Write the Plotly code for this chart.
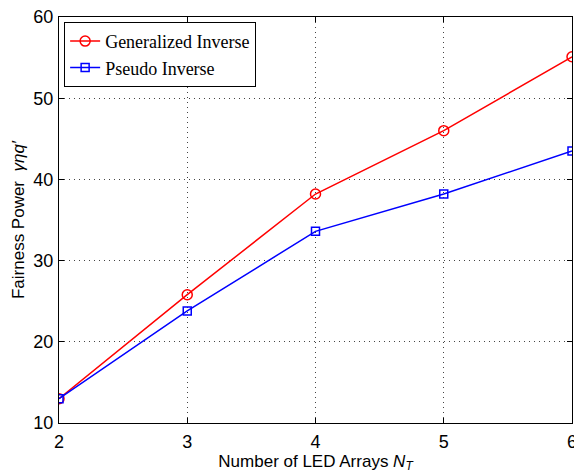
import plotly.graph_objects as go

x_vals = [2, 3, 4, 5, 6]
generalized = [13.0, 25.8, 38.2, 46.0, 55.1]
pseudo = [13.0, 23.8, 33.6, 38.2, 43.5]
y_ticks = [10, 20, 30, 40, 50, 60]

fig = go.Figure()
fig.add_trace(go.Scatter(x=x_vals, y=generalized, mode="lines+markers", name="Generalized Inverse",
                         line=dict(color="#ff0000", width=1.5),
                         marker=dict(symbol="circle-open", size=10, color="#ff0000", line=dict(width=1.5))))
fig.add_trace(go.Scatter(x=x_vals, y=pseudo, mode="lines+markers", name="Pseudo Inverse",
                         line=dict(color="#0000ff", width=1.5),
                         marker=dict(symbol="square-open", size=8, color="#0000ff", line=dict(width=1.5))))

axis_common = dict(showline=True, linecolor="black", linewidth=1, mirror="ticks", ticks="inside",
                   ticklen=5, tickcolor="black", showgrid=True, gridcolor="#444444", griddash="1px,4px",
                   gridwidth=1, zeroline=False, automargin=False, ticklabeloverflow="allow",
                   tickfont=dict(family="Liberation Sans, Arial", size=18, color="black"))

fig.update_xaxes(range=[2, 6], tickvals=x_vals, ticklabelstandoff=2,
                 title=dict(text="Number of LED Arrays <i>N</i><sub><i>T</i></sub>",
                            font=dict(family="Liberation Sans, Arial", size=17, color="black"), standoff=2),
                 **axis_common)
fig.update_yaxes(range=[10, 60], tickvals=y_ticks, ticklabelstandoff=1,
                 title=dict(text="Fairness Power  <i>γηq′</i>",
                            font=dict(family="Liberation Sans, Arial", size=17, color="black"), standoff=4),
                 **axis_common)

# page body has an 8px margin; compensate so the plot area lands where the reference has it
fig.update_layout(width=574, height=466, plot_bgcolor="white", paper_bgcolor="white",
                  margin=dict(l=51, r=10, t=9, b=51),
                  legend=dict(x=0.01, y=0.988, xanchor="left", yanchor="top", bgcolor="white",
                              bordercolor="black", borderwidth=1, tracegroupgap=0,
                              font=dict(family="Liberation Serif, Times New Roman", size=18, color="black"),
                              itemwidth=30))

fig.write_html("out.html")
